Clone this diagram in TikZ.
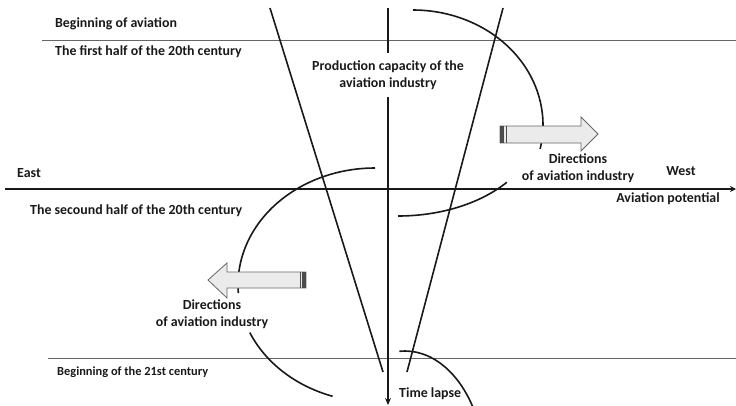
\documentclass[tikz,border=0pt]{standalone}
\usepackage{fontspec}
\setmainfont{Carlito}
\usetikzlibrary{arrows.meta}
\begin{document}
\begin{tikzpicture}[x=1pt,y=1pt,
  lbl/.style={font=\bfseries\fontsize{13.9}{16.5}\selectfont, inner sep=0pt, text=black!90},
  lblsmall/.style={font=\bfseries\fontsize{12.4}{14}\selectfont, inner sep=0pt, text=black!90},
  axisline/.style={line width=1.8pt, black!90},
  curve/.style={line width=1.6pt, black!90},
  thinline/.style={line width=1pt, black!60},
  blockarrow/.style={draw=black!60, fill=black!8, line width=0.8pt},
]
\useasboundingbox (0,0) rectangle (736,-405);

% thin period lines
\coordinate (t1a) at (42,-40);  \coordinate (t1b) at (736,-40);
\coordinate (t2a) at (48,-358); \coordinate (t2b) at (736,-358);
\draw[thinline] (t1a) -- (t1b);
\draw[thinline] (t2a) -- (t2b);

% labels
\node[lbl,anchor=west] (boa) at (55,-24) {Beginning of aviation};
\node[lbl,anchor=west] (fh) at (55,-52) {The first half of the 20th century};
\node[lbl,align=center] (pc) at (388,-75) {Production capacity of the\\aviation industry};
\node[lbl,anchor=west] (east) at (17,-173) {East};
\node[lbl,align=center] (dr) at (578,-168) {Directions\\of aviation industry};
\node[lbl] (west) at (681,-171) {West};
\node[lbl] (ap) at (668,-199) {Aviation potential};
\node[lbl,anchor=west] (sh) at (30,-211) {The secound half of the 20th century};
\node[lbl,align=center] (dl) at (212,-314) {Directions\\of aviation industry};
\node[lblsmall,anchor=west] (b21) at (57,-372) {Beginning of the 21st century};
\node[lbl,anchor=west] (tl) at (399,-394) {Time lapse};

% axes
\coordinate (vt) at (388,-8);
\coordinate (vg1) at (388,-53);
\coordinate (vg2) at (388,-97);
\coordinate (vb) at (388,-405);
\draw[axisline] (vt) -- (vg1);
\draw[axisline,-{Stealth[length=7pt,width=6pt]}] (vg2) -- (vb);
\coordinate (hl) at (5,-189);
\coordinate (hr) at (736,-189);
\draw[axisline,-{Stealth[length=6pt,width=6pt]}] (hl) -- (hr);

% slanted lines
\coordinate (l1) at (270,-8);  \coordinate (l2) at (383,-372);
\coordinate (r1) at (503,-8);  \coordinate (r2) at (407,-372);
\draw[curve] (l1) -- (l2);
\draw[curve] (r1) -- (r2);

% arcs
\draw[curve] (413,-10) arc[start angle=90,end angle=-12,x radius=130pt,y radius=115pt];
\draw[curve] (398,-216) arc[start angle=270,end angle=321,x radius=140pt,y radius=91pt];
\draw[curve] (375,-168) arc[start angle=90,end angle=184,x radius=137pt,y radius=117pt];
\draw[curve] (249.8,-332.6) arc[start angle=204,end angle=252,x radius=137pt,y radius=117pt];
\draw[curve] (399.4,-351.3) arc[start angle=94,end angle=28,x radius=80pt,y radius=119pt];

% right block arrow
\draw[blockarrow] (500,-126) -- (581,-126) -- (581,-117) -- (598,-134) -- (581,-151) -- (581,-143) -- (500,-143) -- cycle;
\fill[black!70] (500,-126) rectangle (504,-143);
\draw[black!70,line width=0.8pt] (506,-126) -- (506,-143);

% left block arrow
\draw[blockarrow] (306,-272) -- (227,-272) -- (227,-263) -- (208,-280) -- (227,-298) -- (227,-288) -- (306,-288) -- cycle;
\fill[black!70] (302,-272) rectangle (306,-288);
\draw[black!70,line width=0.8pt] (300,-272) -- (300,-288);
\end{tikzpicture}
\end{document}
